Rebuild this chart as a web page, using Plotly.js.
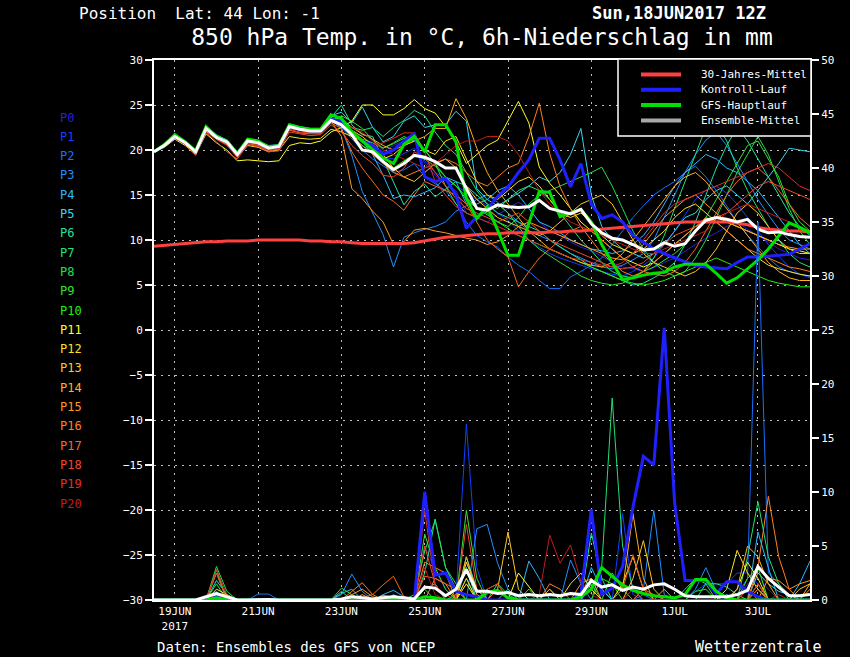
<!DOCTYPE html>
<html>
<head>
<meta charset="utf-8">
<script src="https://cdn.plot.ly/plotly-3.0.1.min.js"></script>
<style>html,body{margin:0;padding:0;background:#000;}#chart{width:850px;height:657px;}</style>
</head>
<body>
<div id="chart"></div>
<script>
// ---- time axis: 6-hourly steps from 18JUN2017 12Z ----
const runStart = Date.UTC(2017, 5, 18, 12);
const stepHours = 6;
const nSteps = 64;
const times = [];
for (let i = 0; i < nSteps; i++) {
  times.push(new Date(runStart + i * stepHours * 3600e3).toISOString().slice(0, 16).replace('T', ' '));
}
const tickDates = ['2017-06-19','2017-06-21','2017-06-23','2017-06-25','2017-06-27','2017-06-29','2017-07-01','2017-07-03'];
const tickLabels = ['19JUN<br>2017','21JUN','23JUN','25JUN','27JUN','29JUN','1JUL','3JUL'];

const memberNames = ['P0','P1','P2','P3','P4','P5','P6','P7','P8','P9','P10','P11','P12','P13','P14','P15','P16','P17','P18','P19','P20'];
const memberColors = ['#2a20d8','#1040ff','#1870ff','#2090ff','#30b8ff','#30d8f0','#20e0a0','#20e078','#20e050','#38e030','#20f010','#ffff20','#ffe020','#ffc820','#ffb020','#ff9820','#ff8020','#f86820','#f04828','#e03028','#c01c1c'];

const legendNames = ['30-Jahres-Mittel','Kontroll-Lauf','GFS-Hauptlauf','Ensemble-Mittel'];
const legendColors = ['#ff4040','#2020ff','#00e000','#a8a8a8'];

// ---- 850 hPa temperature (°C) ----
const tP0  = [19.8,20.6,21.6,20.9,19.9,22.5,21.3,20.6,19.3,20.8,20.6,20.0,20.1,22.3,22.0,21.9,21.9,23.2, 22.8,22.0,21.5,20.6,19.8,20.5,21.0,21.2,18.5,17.2,16.0,15.5,13.0, 12.5,12.0,12.8,13.5,14.2,13.5,12.0,11.0,10.5,9.8,9.2,8.8,8.2,7.5,7.0,6.8,6.5,6.9,7.5,8.0,8.8,9.5,10.2,10.8,11.5,12.0,11.2,10.5,9.8,9.0,8.5,8.0,7.8];
const tP1  = [19.8,20.4,21.4,20.7,19.7,22.2,21.5,21.0,19.6,21.1,20.9,20.3,20.5,22.7,22.4,22.2,22.3,23.6, 23.0,21.8,20.8,20.0,19.2,19.0,19.6,20.2,18.8,17.5,16.8,16.0,15.2, 14.5,13.8,13.0,12.2,11.0,10.0,9.2,8.5,8.0,7.6,7.2,6.8,6.5,6.2,6.0,6.5,7.2,8.0,9.5,11.0,12.8,14.5,15.5,16.0,15.2,14.0,12.5,11.0,9.5,8.2,7.0,6.2,5.8];
const tP2  = [19.8,20.5,21.5,20.8,19.9,22.3,21.3,20.8,19.4,20.9,20.7,20.1,20.2,22.5,22.2,22.0,22.0,23.3, 22.5,21.2,20.0,19.0,18.2,17.5,17.8,18.5,17.0,16.2,15.5,14.0,12.0, 10.5,9.8,9.2,8.1,7.2,6.5,5.5,4.6,4.6,5.9,6.5,7.2,8.0,9.5,11.0,12.5,13.8,15.0,15.8,16.5,17.5,18.2,17.0,15.5,13.8,12.0,10.5,9.2,8.0,7.0,6.5,6.2,6.0];
const tP3  = [19.8,20.6,21.5,20.9,19.8,22.4,21.5,20.9,19.6,21.0,20.9,20.3,20.3,22.6,22.4,22.2,22.2,23.4, 22.4,19.4,15.4,13.0,10.6,7.0,10.3,10.8,11.2,11.5,12.0,13.2,13.8, 14.5,15.0,14.2,13.0,12.0,11.0,10.5,10.0,9.2,8.5,8.0,7.5,7.0,6.8,7.2,7.8,8.5,10.0,12.5,15.0,17.5,19.5,21.1,22.0,20.5,18.5,16.5,14.5,12.8,11.2,10.0,9.5,9.0];
const tP4  = [19.8,20.5,21.4,20.8,19.8,22.3,21.6,21.1,19.8,21.2,21.0,20.4,20.5,22.8,22.5,22.3,22.3,23.6, 23.2,22.0,21.0,19.5,17.2,14.6,15.0,14.8,15.3,15.8,17.0,16.5,14.0, 14.0,14.5,15.5,16.0,15.0,13.5,12.0,11.5,10.8,10.0,9.5,9.0,8.8,8.5,8.8,9.5,10.5,12.0,14.0,16.0,17.5,18.5,19.5,19.0,18.0,17.5,16.5,15.5,14.0,12.5,11.0,9.5,8.5];
const tP5  = [19.9,20.7,21.7,21.0,20.0,22.6,21.7,21.1,19.8,21.2,21.0,20.5,20.6,22.9,22.6,22.4,22.4,23.8, 24.2,23.0,24.8,22.5,20.9,21.5,23.2,23.8,22.5,22.8,22.8,24.3,23.2, 15.7,14.5,13.8,14.5,15.2,16.0,17.0,16.5,17.5,19.5,22.4,15.0,11.5,10.0,9.0,8.5,8.0,8.5,9.5,11.0,12.5,13.0,14.5,15.5,16.0,15.0,14.0,15.5,17.0,18.5,20.2,20.0,19.8];
const tP6  = [19.8,20.6,21.6,20.9,19.9,22.4,21.4,20.8,19.5,21.1,20.8,20.2,20.4,22.6,22.3,22.2,22.2,23.6, 25.0,22.8,21.7,21.5,19.0,16.5,13.9,15.4,16.2,14.8,15.7,16.5,16.0, 15.0,14.0,13.0,12.5,12.0,11.5,11.0,10.0,9.2,8.5,7.8,7.0,6.5,6.0,5.5,5.0,5.2,5.8,6.5,7.5,9.5,12.0,15.0,18.0,20.5,22.5,21.0,19.0,17.0,15.0,13.0,11.5,10.5];
const tP7  = [19.8,20.5,21.6,20.8,19.8,22.5,21.5,20.9,19.5,21.1,20.9,20.3,20.5,22.7,22.4,22.2,22.2,23.5, 23.5,22.5,22.2,22.5,21.5,22.5,23.3,24.4,23.8,22.0,20.5,19.5,17.5, 15.5,14.0,13.5,14.5,15.5,16.0,15.5,14.5,13.0,11.5,10.0,8.8,7.5,6.5,6.0,5.8,6.5,8.0,10.5,13.5,16.5,19.5,22.5,23.0,21.0,18.0,15.5,13.5,11.5,10.0,8.5,7.5,7.0];
const tP8  = [19.8,20.5,21.5,20.8,19.8,22.4,21.4,20.9,19.6,21.0,20.8,20.2,20.4,22.6,22.3,22.1,22.2,23.4, 23.0,22.0,21.2,20.8,20.2,20.8,21.5,21.0,20.0,18.5,17.0,16.0,14.5, 13.5,13.0,12.0,11.5,12.5,14.0,15.0,15.5,16.0,16.5,17.0,17.5,18.1,16.0,13.5,11.0,9.0,7.5,6.5,6.0,6.5,8.0,10.0,12.5,15.0,17.5,19.5,21.5,19.5,16.5,13.5,11.0,9.5];
const tP9  = [19.8,20.6,21.5,20.9,19.8,22.3,21.3,20.7,19.3,20.9,20.6,20.1,20.3,22.4,22.2,22.0,22.0,23.3, 23.8,23.2,22.4,21.1,20.2,20.7,21.3,21.1,20.0,18.5,16.0,14.0,13.0, 12.5,13.2,14.0,13.0,11.5,10.0,9.0,8.2,7.5,6.8,6.0,5.5,5.2,5.0,5.2,5.8,6.5,7.0,7.8,8.5,9.5,11.0,12.5,14.5,16.5,18.5,20.5,21.0,19.0,17.0,14.0,12.0,11.0];
const tP10 = [19.8,20.4,21.4,20.7,19.7,22.3,21.3,20.8,19.4,20.9,20.7,20.1,20.3,22.5,22.2,22.0,22.0,23.3, 22.8,21.5,20.5,19.8,18.8,18.0,18.8,19.5,19.0,18.2,17.0,16.0,14.8, 13.5,12.8,12.0,11.2,10.5,10.0,9.5,9.0,8.5,8.0,7.5,7.0,6.5,6.0,5.5,5.2,5.0,5.2,5.5,6.0,6.5,7.0,7.5,8.0,7.5,7.0,6.5,6.0,5.5,5.2,5.0,4.8,4.8];
const tP11 = [19.8,20.3,21.2,20.5,19.5,21.8,20.8,20.0,18.8,18.9,18.8,18.7,18.8,20.5,20.8,20.7,21.0,22.0, 22.5,23.2,25.0,25.0,23.9,23.9,24.6,25.6,24.6,24.1,22.6,20.9,18.5, 19.5,20.5,21.1,23.3,25.4,23.0,18.1,16.3,15.0,13.5,12.0,11.0,10.0,9.0,8.0,7.5,7.0,7.5,8.5,9.5,10.5,11.5,12.0,12.5,12.0,11.5,11.0,10.5,10.0,9.5,9.0,8.8,8.5];
const tP12 = [19.8,20.5,21.4,20.7,19.7,22.1,21.2,20.6,19.2,20.5,20.3,19.8,20.0,21.5,21.3,21.2,21.3,22.3, 22.0,21.5,21.0,20.0,19.0,19.5,20.5,21.0,20.0,19.5,21.0,21.5,19.0, 16.5,15.0,14.5,15.5,16.5,17.0,16.0,14.5,13.0,12.5,13.0,12.0,10.5,9.5,9.0,8.5,9.0,10.0,11.0,12.5,13.5,14.0,13.0,12.0,11.0,10.0,9.0,8.0,7.2,6.8,6.5,6.2,6.0];
const tP13 = [19.8,20.6,21.5,20.9,19.9,22.5,21.5,21.0,19.6,21.1,20.9,20.3,20.5,22.7,22.4,22.2,22.2,23.5, 23.0,22.2,21.5,20.5,19.5,18.0,17.0,16.5,17.5,18.5,19.0,18.0,16.0, 14.5,13.5,12.5,12.0,11.5,11.0,10.5,11.0,12.0,13.0,14.0,14.5,15.0,14.0,12.0,10.0,8.5,7.5,7.0,6.5,6.0,6.5,7.5,9.0,11.0,13.0,14.0,13.0,11.5,10.0,9.0,8.5,8.5];
const tP14 = [19.8,20.5,21.5,20.8,19.8,22.4,21.4,20.9,19.5,21.0,20.8,20.2,20.4,22.6,22.3,22.1,22.1,23.4, 23.2,22.5,21.8,21.2,20.5,20.0,20.5,21.0,21.5,22.4,22.4,25.7,23.5, 20.2,17.5,15.5,14.0,12.5,11.0,10.0,9.0,8.5,8.0,7.5,7.2,7.0,7.5,8.5,10.0,11.5,13.0,14.5,16.0,17.0,17.5,16.5,15.0,13.5,12.0,10.5,9.0,7.5,6.5,5.8,5.5,5.5];
const tP15 = [19.8,20.5,21.4,20.8,19.8,22.3,21.3,20.8,19.4,20.9,20.7,20.1,20.3,22.5,22.2,22.0,22.0,23.2, 21.5,15.7,14.6,13.2,12.0,9.5,9.8,11.1,11.3,11.0,10.8,10.5,10.2, 10.0,9.5,9.8,10.5,11.5,12.0,11.5,11.0,10.5,10.0,9.5,9.0,8.5,8.0,7.8,8.5,9.5,11.0,12.5,13.5,14.5,15.0,14.0,13.0,12.0,11.5,11.0,10.5,10.0,9.5,9.2,9.0,9.0];
const tP16 = [19.8,20.6,21.6,20.9,19.9,22.5,21.5,21.0,19.6,21.1,20.9,20.3,20.4,22.6,22.3,22.1,22.2,23.5, 23.0,21.5,20.5,19.5,18.5,17.5,17.0,17.5,18.0,18.5,19.0,18.5,17.5, 16.5,16.0,17.0,18.0,18.5,21.5,25.2,19.6,15.9,13.5,11.5,10.0,8.5,7.5,6.5,6.0,6.5,7.5,8.5,9.5,10.5,11.5,12.5,12.0,11.0,10.0,9.0,8.5,8.0,7.5,7.0,6.8,6.5];
const tP17 = [19.8,20.5,21.4,20.7,19.7,22.2,21.2,20.6,19.2,20.7,20.5,19.9,20.1,22.2,21.9,21.8,21.8,23.0, 22.4,19.8,18.0,16.5,15.0,14.3,13.3,15.0,16.5,16.0,15.5,15.0,14.0, 12.0,10.0,9.0,8.1,4.8,6.5,8.0,9.0,10.0,11.0,11.5,11.0,10.0,9.0,8.0,7.0,6.5,6.2,6.0,6.5,7.5,9.0,11.0,13.0,15.0,16.5,17.5,18.0,17.0,15.5,14.0,12.5,11.5];
const tP18 = [19.8,20.4,21.3,20.6,19.4,22.0,20.9,19.8,19.0,20.6,20.4,19.8,19.9,22.0,21.8,21.6,21.7,22.8, 22.0,20.5,19.4,18.5,17.2,17.0,18.0,19.8,19.2,17.5,16.0,14.6,13.5, 13.0,12.5,12.0,12.5,13.0,12.0,11.0,10.0,9.5,9.0,8.5,8.0,7.5,7.0,6.8,7.0,7.5,8.5,9.5,10.5,11.0,11.5,12.0,12.5,13.0,14.0,15.0,16.0,16.5,16.0,15.5,15.0,14.5];
const tP19 = [19.8,20.5,21.5,20.8,19.7,22.3,21.2,20.5,19.2,20.8,20.6,20.0,20.2,22.3,22.0,21.9,21.9,23.1, 22.8,22.0,21.0,20.5,20.8,21.3,21.9,21.9,19.8,16.5,15.0,13.7,13.0, 12.5,12.0,11.5,11.0,10.5,10.0,9.5,9.0,8.5,8.0,7.8,7.5,7.2,7.0,7.5,8.5,10.0,11.5,13.0,14.0,14.5,15.0,15.5,16.0,16.5,17.0,17.5,18.0,18.5,18.0,17.0,16.0,15.5];
const tP20 = [19.8,20.5,21.5,20.8,19.8,22.4,21.4,20.9,19.5,21.0,20.8,20.2,20.4,22.6,22.3,22.1,22.1,23.4, 23.0,22.5,22.0,21.0,20.0,19.5,19.0,18.5,18.0,18.5,19.5,20.5,21.0, 21.0,21.5,21.5,21.0,19.5,17.5,15.5,14.0,13.0,12.0,11.5,11.0,10.5,10.0,9.5,9.0,8.5,8.5,9.0,9.5,10.0,10.5,11.0,12.0,13.0,13.5,14.0,13.5,13.0,12.5,12.0,11.5,11.0];
const tControl = [19.8,20.5,21.5,20.8,19.8,22.4,21.4,20.9,19.5,21.0,20.8,20.2,20.4,22.6,22.3,22.1,22.1,23.4, 23.2,22.0,21.0,20.5,19.5,20.0,21.0,21.8,17.0,16.5,16.8,15.0,11.3, 12.6,13.5,14.8,15.9,17.5,18.9,21.3,21.3,18.9,15.9,18.5,14.0,12.4,12.8,12.0,10.5,9.7,9.0,8.5,8.0,7.6,7.2,7.0,6.9,6.8,7.5,8.1,8.1,8.2,8.3,8.4,9.0,9.6];
const tGFS = [19.8,20.6,21.7,20.9,19.9,22.6,21.5,21.0,19.6,21.2,21.0,20.3,20.5,22.8,22.5,22.3,22.3,23.9, 23.5,22.0,21.0,20.0,19.1,18.5,20.6,21.5,19.8,22.8,22.8,20.9,14.6, 12.4,13.7,11.1,8.3,8.3,11.8,15.4,15.3,12.6,13.0,13.4,12.0,9.5,7.5,5.6,5.8,6.1,6.3,6.4,7.0,7.3,7.3,7.3,6.3,5.2,5.8,6.8,7.8,9.0,10.5,11.9,11.4,10.8];
const tMean = [19.8,20.5,21.5,20.8,19.8,22.4,21.4,20.9,19.5,21.0,20.8,20.2,20.4,22.6,22.3,22.1,22.1,23.3, 22.8,21.7,20.0,19.8,18.7,17.8,18.5,19.4,19.2,18.7,18.0,18.0,15.7, 13.5,13.3,13.9,13.7,13.6,13.7,14.4,13.5,13.2,12.9,13.4,11.8,10.8,10.2,10.0,9.5,8.9,9.0,9.7,9.3,9.6,11.0,12.2,12.5,12.3,12.0,12.3,11.2,10.8,10.9,10.6,10.4,10.3];
const tClimate = [9.3,9.4,9.5,9.6,9.7,9.8,9.8,9.9,9.9,9.9, 10.0,10.0,10.0,10.0,10.0,9.9,9.9,9.8,9.8,9.7, 9.6,9.6,9.6,9.6,9.6,9.7,9.9,10.1,10.3,10.4, 10.5,10.6,10.7,10.7,10.8,10.8,10.8,10.8,10.9,10.9, 11.0,11.0,11.1,11.2,11.3,11.4,11.5,11.6,11.7,11.8, 11.9,12.0,12.0,12.0,12.0,12.0,11.9,11.7,11.4,11.2, 11.1,11.0,11.0,10.9];

// ---- 6h precipitation (mm) ----
const pP0  = [0,0,0,0,0,0,0.3,0,0,0, 0,0,0,0,0,0,0,0,0,0, 0,0,0,0,0,0,5.0,2.8,1.0,0, 0,0,0,0,0,0,0,0,0,0, 0,0,1.0,0,0,0,0,0,0,0, 0,0,0,0,0,0,0,1.5,2.0,1.0, 0,0,0,0];
const pP1  = [0,0,0,0,0,0,0,0,0,0, 0,0,0,0,0,0,0,0,0,0, 0,0,0,0,0,0,0,0,0,0.3, 16.3,3.0,0,0,0,0,0,0,0,0, 0,0,0,0,0,8.0,0.5,0,0,0, 0,0,0.8,1.5,1.5,1.5,2.5,2.5,1.5,0, 0,0,0,0];
const pP2  = [0,0,0,0,0,0,0,0,0,0, 0.55,0.55,0,0,0,0,0,0,0,0, 0,0,0,0,0,0,0,0,0,0, 0,0,0,0,0,0,0,0,0,0, 0,0,0,0,0,0,0,0.5,0,0, 0,0,0,0,0,0,0.5,2.0,35.0,2.5, 1.5,0.5,0,0];
const pP3  = [0,0,0,0,0,0,0,0,0,0, 0,0,0,0,0,0,0,0,0.5,2.4, 0.8,0,0,0.5,0,0,0,0,0,0, 0,6.6,7.0,3.4,1.0,0,0,0,0,0, 3.7,1.5,0,0,0,0,0,1.0,8.3,0.5, 0,0,1.0,3.0,0.8,0,0,0,0,0, 0,0,0,0];
const pP4  = [0,0,0,0,0,0,0.8,0,0,0, 0,0,0,0,0,0,0,0,0.6,1.0, 0,0,0.5,0.9,0.3,0,0,0,0,0, 3.0,0,0,0,0,0,3.6,2.0,0,0, 0,0,3.0,1.0,0,0,0,0,0,0, 0,0,0,0,0,0,0,0,6.3,3.0, 0,0,1.5,3.6];
const pP5  = [0,0,0,0,0,0,1.8,0.5,0,0, 0,0,0,0,0,0,0,0,0,0, 0,0,0,0,0,0,1.0,1.5,0,0, 4.0,1.0,0,0,0,0,0,0,1.0,0, 0,0,2.0,1.0,0,0,0,0,0,0, 0,0,0,0,0,0.5,0,0,2.5,1.5, 0.8,0.5,0,0];
const pP6  = [0,0,0,0,0,0,0,0,0,0, 0,0,0,0,0,0,0,0,0,0, 0,0,0,0,0,0,2.5,7.5,3.0,1.0, 0,0,0,0,1.0,0,0,0,0,0, 0,0,6.2,2.0,0,0,0,0,0,0, 0,0,0,1.5,1.5,1.2,0.5,0,0,0, 0,0,0,0];
const pP7  = [0,0,0,0,0,0,2.5,0,0,0, 0,0,0,0,0,0,0,0,0.8,0, 0,0,0,0,0,0,0,0,0,0.5, 3.0,0,0,0,0,0,0,0,0,0, 0,0,0,3.1,18.7,5.0,1.0,0,0,0, 0,0,0,0,0,0,0,4.0,9.1,4.0, 1.5,0,0,0];
const pP8  = [0,0,0,0,0,0,3.1,0.8,0,0, 0,0,0,0,0,0,0,0,1.1,0.5, 0,0,0,0,0,0.5,4.5,7.4,3.0,1.5, 0,0,0,1.5,0.5,0,0,0,0,0, 0,0,1.5,0,0,0,0,0,0,0, 0,1.0,2.0,1.5,0,0,0,0,0,0, 0,0,0,0];
const pP9  = [0,0,0,0,0,0,2.8,0,0,0, 0,0,0,0,0,0,0,0,0,0, 0,0,0,0,0,0,6.1,3.0,1.0,0, 8.3,2.0,0,0,0,0,1.0,0,0,0, 0,0,0,0,2.5,1.0,0,0,0,0, 0,0,0,0,0,0,0,2.0,3.0,0, 0,0,0,0];
const pP10 = [0,0,0,0,0,0,1.5,0,0,0, 0,0,0,0,0,0,0,0,0,0, 0,0,0,0,0,0,1.0,0,0,0, 2.0,0,1.0,1.5,0,0,0,0,0,0, 0,0,0,2.0,1.5,0,0,0,0,0, 0,0,0.8,1.0,0,0,0,0,1.0,0, 0,0,0,0];
const pP11 = [0,0,0,0,0,0,1.0,0.5,0,0, 0,0,0,0,0,0,0,0,0,0, 0,0,0.4,0.3,0,0,0,0,0,0, 1.5,0,0,0,0,2.5,1.2,0,0,0, 0,0,0,0,0,1.5,4.0,1.0,0,0, 0,0,0,0,0,0,1.0,3.5,2.0,0, 0,0,0,0];
const pP12 = [0,0,0,0,0,0,0.5,0,0,0, 0,0,0,0,0,0,0,0,0,0, 0,0,0,0.4,0.2,0,0,0,0,0, 3.5,1.0,0,0,0,0,0,0,0,0, 1.5,2.5,1.0,0,0,0,0,0,0,0, 0,0,0,0,0,1.0,4.6,2.5,1.0,0, 0,0,0,0];
const pP13 = [0,0,0,0,0,0,0.3,0,0,0, 0,0,0,0,0,0,0,0,0,0, 0,0,0,0,0,0,0,0,0,0, 2.0,0,0,1.0,6.3,1.0,0,0,0,0, 0,0,0,0,0,0,2.0,5.5,1.0,0, 0,0,0,0,0,0,0,0,1.5,0, 0,0,1.0,1.5];
const pP14 = [0,0,0,0,0,0,0,0,0,0, 0,0,0,0,0,0,0,0,0,0, 0.5,0,0,0,0,0,0,0,0,0, 4.0,0.5,0,0,0,0,0,0,1.0,0, 0,0,0,0,0,1.0,8.0,2.0,0,0, 0,0,0,0,0,0,1.0,5.0,4.0,1.5, 0,0,0,1.5];
const pP15 = [0,0,0,0,0,0,0.4,0,0,0, 0,0,0,0,0,0,0,0,0,0.5, 1.0,0.3,0,0,0,0,0,2.0,1.5,0, 0,0,0,0,0,0,0,0,0,0, 0,1.5,2.0,0,0,0,0,0,0,1.0, 0,0,0,0,0,0,0,0,0,2.0, 1.8,1.0,1.5,1.8];
const pP16 = [0,0,0,0,0,0,0.3,0,0,0, 0,0,0,0,0,0,0,0,0,0.8, 1.6,0.5,0,0,0,0,3.5,3.0,2.5,0, 0,0,0,0,0,0,0,0,1.5,1.0, 0,0,0,0,0,0,0,0,0,0, 0,0,0,0,0,0,0,0,3.0,9.6, 4.0,1.0,0,1.0];
const pP17 = [0,0,0,0,0,0,0,0,0,0, 0,0,0,0,0,0,0,0,0,0, 0.2,0.5,1.4,2.2,0.3,0,2.2,2.0,1.5,1.0, 0,0,0,1.0,0,0,0,0,0,0, 0,0,0,0,0,0,0,1.0,0.5,0, 0,0,0,0,0,0,0,0,1.0,0, 0,0,0,0];
const pP18 = [0,0,0,0,0,0,2.5,0,0,0, 0,0,0,0,0,0,0,0,0,0, 0,0,0,0,0,0,5.0,1.5,0,0, 7.0,1.0,0,0,0,0,0,0,0,0, 0,0,0,0,0,1.0,4.2,1.0,0,0, 0,0,0,0,0,0,0,1.0,0,0, 0,0,0,0];
const pP19 = [0,0,0,0,0,0,2.8,0.5,0,0, 0,0,0,0,0,0,0,0,0,0, 0,0,0,0,0,0,8.3,1.3,0.5,0, 0,0,1.0,1.5,0,0,0,0,0,0, 0,0,0,0,0,0,1.0,0,0,0, 0,0,0,0,0,0,0,0,1.5,0, 0,0,0,0];
const pP20 = [0,0,0,0,0,0,0,0,0,0, 0,0,0,0,0,0,0,0,0,0, 0,0,0,0,0,0,3.0,0.5,0,0, 0,0,0,0,0,0,0,0.5,6.0,3.4, 5.1,1.7,0.5,0,0,0,0,0,0,0, 0,0,0,0,0,0,0,0,0,0, 0.5,0,0,0];
const pControl = [0,0,0,0,0,0,0.3,0,0,0, 0,0,0,0,0,0,0,0,0,0, 0,0,0,0,0,0,10.0,2.3,2.5,0.8, 0.5,0.3,0,0,0,0,0,0,0,0, 0,0.5,8.4,0.5,1.1,3.1,8.6,13.3,12.5,25.2, 9.0,1.8,1.8,1.8,0.6,1.7,1.7,0.8,0.3,0, 0,0,0,0];
const pGFS = [0,0,0,0,0,0,0.2,0,0,0, 0,0,0,0,0,0,0,0,0,0, 0,0,0,0.15,0.15,0,0.3,0.2,0,0, 0,0,0.7,0.9,0.2,0,0,0,0,0, 0,0.3,1.0,3.0,2.2,1.4,0.9,0.6,0.4,0.3, 0.2,0.5,1.9,1.9,0.8,0.2,0,0,0,0, 0,0,0,0];
const pMean = [0,0,0,0,0,0.3,0.6,0.3,0,0, 0.05,0.05,0,0,0,0,0,0,0.1,0.3, 0.2,0.1,0.2,0.3,0.2,0.1,1.2,1.1,0.4,1.0, 2.8,0.8,0.8,0.6,0.7,0.4,0.5,0.4,0.5,0.4, 0.6,0.5,1.8,1.2,1.4,0.9,1.2,1.0,1.4,1.5, 1.0,0.4,0.3,0.3,0.3,0.3,0.5,0.9,3.1,2.0, 1.2,0.4,0.4,0.5];

const memberTemp = [tP0,tP1,tP2,tP3,tP4,tP5,tP6,tP7,tP8,tP9,tP10,tP11,tP12,tP13,tP14,tP15,tP16,tP17,tP18,tP19,tP20];
const memberPrec = [pP0,pP1,pP2,pP3,pP4,pP5,pP6,pP7,pP8,pP9,pP10,pP11,pP12,pP13,pP14,pP15,pP16,pP17,pP18,pP19,pP20];

const traces = [];
memberTemp.forEach((arr, k) => traces.push({x: times, y: arr, type: 'scatter', mode: 'lines', name: memberNames[k],
  line: {color: memberColors[k], width: 1}, showlegend: false, hoverinfo: 'skip'}));
memberPrec.forEach((arr, k) => traces.push({x: times, y: arr, yaxis: 'y2', type: 'scatter', mode: 'lines', name: memberNames[k],
  line: {color: memberColors[k], width: 1}, showlegend: false, hoverinfo: 'skip'}));
traces.push({x: times, y: tClimate, type: 'scatter', mode: 'lines', name: legendNames[0], showlegend: false, line: {color: legendColors[0], width: 3}});
traces.push({x: times, y: tControl, type: 'scatter', mode: 'lines', name: legendNames[1], showlegend: false, line: {color: legendColors[1], width: 3}});
traces.push({x: times, y: pControl, yaxis: 'y2', type: 'scatter', mode: 'lines', showlegend: false, line: {color: legendColors[1], width: 3}});
traces.push({x: times, y: tGFS, type: 'scatter', mode: 'lines', name: legendNames[2], showlegend: false, line: {color: legendColors[2], width: 3}});
traces.push({x: times, y: pGFS, yaxis: 'y2', type: 'scatter', mode: 'lines', showlegend: false, line: {color: legendColors[2], width: 3}});
traces.push({x: times, y: tMean, type: 'scatter', mode: 'lines', name: legendNames[3], showlegend: false, line: {color: '#ffffff', width: 3}});
traces.push({x: times, y: pMean, yaxis: 'y2', type: 'scatter', mode: 'lines', showlegend: false, line: {color: '#ffffff', width: 3}});

const FONT = 'DejaVu Sans Mono';
// plot-area pixel geometry -> paper fractions for the decorations
const L = 154, R = 810, T = 60, B = 600;
const px = v => (v - L) / (R - L);
const py = v => (B - v) / (B - T);

const annotations = [
  {text: 'Position\u00a0\u00a0Lat: 44 Lon: -1', xref: 'paper', yref: 'paper', x: px(77), y: py(14), xanchor: 'left', yanchor: 'middle', showarrow: false, font: {family: FONT, size: 16, color: '#fff'}},
  {text: '<b>Sun,18JUN2017 12Z</b>', xref: 'paper', yref: 'paper', x: px(768), y: py(13), xanchor: 'right', yanchor: 'middle', showarrow: false, font: {family: FONT, size: 17, color: '#fff'}},
  {text: 'Daten: Ensembles des GFS von NCEP', xref: 'paper', yref: 'paper', x: px(155), y: py(647), xanchor: 'left', yanchor: 'middle', showarrow: false, font: {family: FONT, size: 14, color: '#fff'}},
  {text: 'Wetterzentrale', xref: 'paper', yref: 'paper', x: px(823), y: py(647), xanchor: 'right', yanchor: 'middle', showarrow: false, font: {family: FONT, size: 15, color: '#fff'}}
];
memberNames.forEach((n, k) => annotations.push({text: n, xref: 'paper', yref: 'paper', x: px(58), y: py(117.5 + 19.3 * k),
  xanchor: 'left', yanchor: 'middle', showarrow: false, font: {family: FONT, size: 12, color: memberColors[k]}}));

// legend box (drawn as a key, above the lines)
const shapes = [{type: 'rect', xref: 'paper', yref: 'paper', x0: px(618), x1: px(811), y0: py(136), y1: py(59),
  fillcolor: '#000', line: {color: '#fff', width: 1.5}, layer: 'above'}];
legendNames.forEach((n, k) => {
  const yy = py(74.5 + 15.3 * k);
  shapes.push({type: 'line', xref: 'paper', yref: 'paper', x0: px(641), x1: px(681), y0: yy, y1: yy,
    line: {color: legendColors[k], width: 4}, layer: 'above'});
  annotations.push({text: n, xref: 'paper', yref: 'paper', x: px(699), y: yy, xanchor: 'left', yanchor: 'middle',
    showarrow: false, font: {family: FONT, size: 11, color: '#fff'}});
});

const gridStyle = {showgrid: true, gridcolor: '#bdbdbd', gridwidth: 1, griddash: '2px,5px'};
const layout = {
  width: 850, height: 657,
  margin: {l: L, r: 850 - R, t: T, b: 657 - B, pad: 0},
  paper_bgcolor: '#000', plot_bgcolor: '#000',
  font: {family: FONT, color: '#fff', size: 11},
  title: {text: '850 hPa Temp. in °C, 6h-Niederschlag in mm', font: {family: FONT, size: 23, color: '#fff'},
          x: 0.5, xref: 'paper', xanchor: 'center', y: 1 - 37 / 657, yref: 'container', yanchor: 'middle'},
  xaxis: Object.assign({type: 'date', range: [times[0], times[nSteps - 1]], tickvals: tickDates, ticktext: tickLabels,
    ticks: '', showline: true, linecolor: '#fff', linewidth: 2, mirror: true, zeroline: false,
    tickfont: {family: FONT, size: 11, color: '#fff'}}, gridStyle),
  yaxis: Object.assign({range: [-30, 30], tick0: -30, dtick: 5, ticks: 'outside', ticklen: 7, tickwidth: 1.5, tickcolor: '#fff',
    showline: true, linecolor: '#fff', linewidth: 2, zeroline: false, tickfont: {family: FONT, size: 11, color: '#fff'}}, gridStyle),
  yaxis2: {overlaying: 'y', side: 'right', range: [0, 50], tick0: 0, dtick: 5, ticks: 'outside', ticklen: 7, tickwidth: 1.5, tickcolor: '#fff',
    showline: true, linecolor: '#fff', linewidth: 2, showgrid: false, zeroline: false, tickfont: {family: FONT, size: 11, color: '#fff'}},
  showlegend: false,
  shapes: shapes,
  annotations: annotations
};
Plotly.newPlot('chart', traces, layout, {displayModeBar: false, staticPlot: true});
</script>
</body>
</html>
